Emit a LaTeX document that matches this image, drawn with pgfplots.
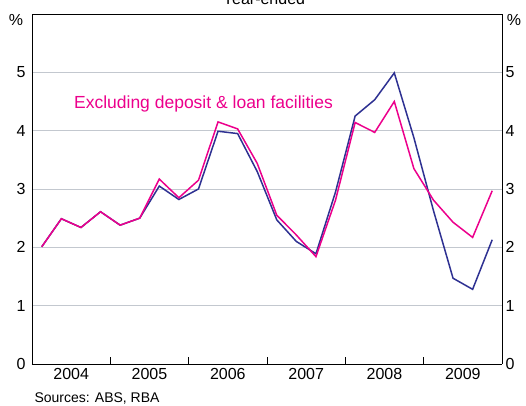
\documentclass[border=0pt]{standalone}
\usepackage{fontspec}
\setmainfont{Liberation Sans}
\usepackage{pgfplots}
\pgfplotsset{compat=1.18}
\usetikzlibrary{calc}
\definecolor{navyl}{HTML}{2E3192}
\definecolor{magl}{HTML}{EC008C}
\definecolor{gridc}{HTML}{C3C8CF}
\begin{document}
\begin{tikzpicture}
\begin{axis}[
  name=ax,
  scale only axis,
  width=470bp, height=350bp,
  xmin=-0.5, xmax=23.5,
  ymin=0, ymax=6,
  axis y line*=left,
  axis x line*=bottom,
  xtick={3.5,7.5,11.5,15.5,19.5},
  xticklabels={},
  extra x ticks={1.5,5.5,9.5,13.5,17.5,21.5},
  extra x tick labels={2004,2005,2006,2007,2008,2009},
  extra x tick style={major tick length=0pt, xticklabel style={yshift=-1bp}},
  major tick length=7bp,
  tick align=inside,
  ytick={0,1,2,3,4,5},
  ymajorgrids,
  grid style={gridc, line width=0.9bp},
  y tick style={draw=none},
  x tick style={black, line width=0.8bp},
  axis line style={black, line width=0.9bp},
  tick label style={font=\fontsize{16bp}{19bp}\selectfont},
  /pgf/number format/assume math mode=true,
  yticklabel style={xshift=-3bp},
  clip=false,
]
\addplot[navyl, line width=1.5bp] coordinates {
(0,2.01)(1,2.49)(2,2.34)(3,2.61)(4,2.38)(5,2.50)(6,3.05)(7,2.82)
(8,3.00)(9,3.99)(10,3.95)(11,3.30)(12,2.47)(13,2.10)(14,1.89)(15,2.95)
(16,4.25)(17,4.53)(18,4.99)(19,3.88)(20,2.63)(21,1.47)(22,1.28)(23,2.13)};
\addplot[magl, line width=1.5bp] coordinates {
(0,2.01)(1,2.49)(2,2.34)(3,2.61)(4,2.38)(5,2.50)(6,3.17)(7,2.85)
(8,3.15)(9,4.15)(10,4.03)(11,3.44)(12,2.55)(13,2.21)(14,1.84)(15,2.81)
(16,4.14)(17,3.97)(18,4.50)(19,3.35)(20,2.81)(21,2.43)(22,2.17)(23,2.97)};
\node[magl, anchor=west, inner sep=0pt, font=\fontsize{17.5bp}{20bp}\selectfont] at (axis cs:1.64,4.46) {Excluding deposit \& loan facilities};
\end{axis}
\begin{axis}[
  scale only axis,
  width=470bp, height=350bp,
  xmin=-0.5, xmax=23.5,
  ymin=0, ymax=6,
  axis y line*=right,
  axis x line=none,
  ytick={0,1,2,3,4,5},
  y tick style={draw=none},
  axis line style={black, line width=0.9bp},
  tick label style={font=\fontsize{16bp}{19bp}\selectfont},
  /pgf/number format/assume math mode=true,
  yticklabel style={xshift=0bp},
]
\addplot[draw=none] coordinates {(0,0)};
\end{axis}
\draw[black, line width=0.9bp] (ax.north west) -- (ax.north east);
\node[font=\fontsize{16bp}{19bp}\selectfont, anchor=center] at ($(ax.north west)+(-16bp,-6bp)$) {\%};
\node[font=\fontsize{16bp}{19bp}\selectfont, anchor=center] at ($(ax.north east)+(12bp,-6bp)$) {\%};
\node[font=\fontsize{16bp}{19bp}\selectfont, anchor=base] at ($(ax.north)+(-3bp,9bp)$) {Year-ended};
\node[font=\fontsize{14bp}{17bp}\selectfont, anchor=west] at ($(ax.south west)+(-1bp,-35bp)$) {Sources: ABS, RBA};
\pgfresetboundingbox
\path[use as bounding box] ($(ax.south west)+(-32bp,-42bp)$) rectangle ($(ax.north east)+(24bp,14bp)$);
\end{tikzpicture}
\end{document}
